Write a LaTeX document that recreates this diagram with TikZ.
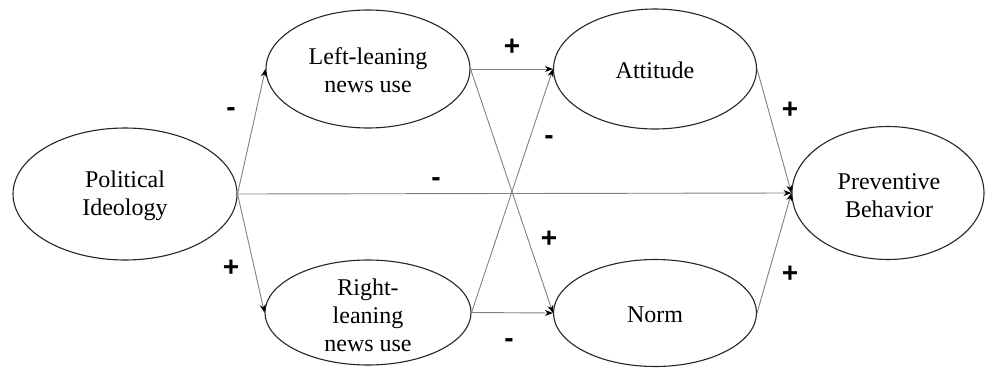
\documentclass[tikz,border=0pt]{standalone}
\usepackage{fontspec}
\setmainfont{Liberation Serif}
\newfontfamily\signfont{Liberation Sans}
\usetikzlibrary{shapes.geometric,arrows.meta}
\begin{document}
\begin{tikzpicture}[x=1pt,y=-1pt,
  oval/.style={ellipse, draw=black!85, line width=1.1pt, inner sep=0pt},
  lbl/.style={font=\fontsize{24}{28}\selectfont, align=center, inner sep=0pt},
  conn/.style={draw=black!50, line width=0.9pt, -{Stealth[black,length=8pt,width=6pt]}},
  sign/.style={font=\signfont\bfseries\fontsize{28}{30}\selectfont, anchor=base, inner sep=0pt}]
\useasboundingbox (0,0) rectangle (985,367);
% ellipses
\node[oval, minimum width=224pt, minimum height=132pt] (pi) at (125,194) {};
\node[oval, minimum width=204pt, minimum height=118pt] (lf) at (368,69) {};
\node[oval, minimum width=206pt, minimum height=105pt] (rl) at (368,312.5) {};
\node[oval, minimum width=203pt, minimum height=120pt] (att) at (655,69) {};
\node[oval, minimum width=203pt, minimum height=107pt] (nm) at (655,313) {};
\node[oval, minimum width=192pt, minimum height=133pt] (pb) at (888,193) {};
% texts
\node[lbl] (tpi) at (125,196) {Political\\Ideology};
\node[lbl] (tlf) at (368,70) {Left-leaning\\news use};
\node[lbl] (trl) at (368,315) {Right-\\leaning\\news use};
\node[lbl] (tatt) at (655,70) {Attitude};
\node[lbl] (tnm) at (655,315) {Norm};
\node[lbl] (tpb) at (889,196) {Preventive\\Behavior};
% connectors
\draw[conn] (pi.east) -- (lf.west);
\draw[conn] (pi.east) -- (rl.west);
\draw[conn] (pi.east) -- (pb.west);
\draw[conn] (lf.east) -- (att.west);
\draw[conn] (lf.east) -- (nm.west);
\draw[conn] (rl.east) -- (att.west);
\draw[conn] (rl.east) -- (nm.west);
\draw[conn] (att.east) -- (pb.west);
\draw[conn] (nm.east) -- (pb.west);
% signs
\node[sign] (s1) at (231,116) {-};
\node[sign] (s2) at (231,276) {+};
\node[sign] (s3) at (512,55) {+};
\node[sign] (s4) at (549,144) {-};
\node[sign] (s5) at (436,186) {-};
\node[sign] (s6) at (549,247) {+};
\node[sign] (s7) at (509,347) {-};
\node[sign] (s8) at (790,118) {+};
\node[sign] (s9) at (790,282) {+};
\end{tikzpicture}
\end{document}
